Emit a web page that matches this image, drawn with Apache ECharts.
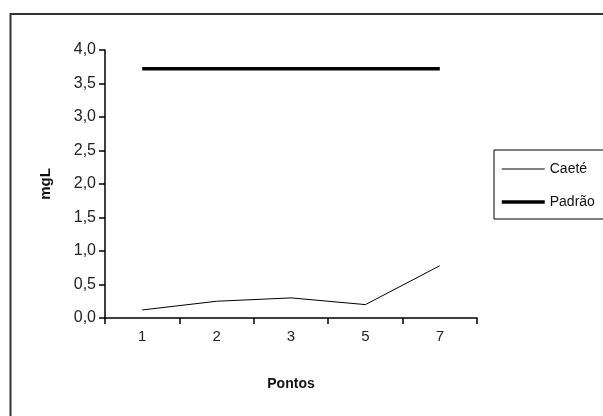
<!DOCTYPE html>
<html>
<head>
<meta charset="utf-8">
<script src="https://cdn.jsdelivr.net/npm/echarts@6/dist/echarts.min.js"></script>
<style>
html,body{margin:0;padding:0;background:#fff;}
#c{width:603px;height:416px;}
</style>
</head>
<body>
<div id="c"></div>
<script>
var categories = ['1', '2', '3', '5', '7'];
var caete = [0.12, 0.25, 0.30, 0.20, 0.78];
var padrao = [3.72, 3.72, 3.72, 3.72, 3.72];
var seriesNames = ['Caeté', 'Padrão'];
var yTicks = [0, 0.5, 1, 1.5, 2, 2.5, 3, 3.5, 4];

var FONT = "'Liberation Sans', Arial, sans-serif";
var chart = echarts.init(document.getElementById('c'), null, {renderer: 'canvas'});
chart.setOption({
  backgroundColor: '#ffffff',
  animation: false,
  textStyle: {fontFamily: FONT},
  graphic: [{
    type: 'rect',
    shape: {x: 10.5, y: 14, width: 700, height: 500},
    style: {fill: 'none', stroke: '#333', lineWidth: 2},
    silent: true
  }],
  grid: {left: 105, right: 126, top: 50, bottom: 98},
  legend: {
    orient: 'vertical',
    left: 494,
    top: 150,
    padding: [12, 70, 10, 6],
    itemWidth: 43,
    itemHeight: 14,
    itemGap: 19,
    borderColor: '#000',
    borderWidth: 1,
    data: [
      {name: seriesNames[0], lineStyle: {width: 1, color: '#000'}},
      {name: seriesNames[1], lineStyle: {width: 3.5, color: '#000'}}
    ],
    itemStyle: {color: 'rgba(0,0,0,0)', borderColor: 'rgba(0,0,0,0)', borderWidth: 0, opacity: 0},
    textStyle: {fontFamily: FONT, fontSize: 14, color: '#111'}
  },
  xAxis: {
    type: 'category',
    data: categories,
    boundaryGap: true,
    name: 'Pontos',
    nameLocation: 'middle',
    nameGap: 59,
    nameTextStyle: {fontFamily: FONT, fontSize: 14, fontWeight: 'bold', color: '#111'},
    axisLine: {lineStyle: {color: '#000', width: 1.5}},
    axisTick: {show: true, inside: false, length: 6, alignWithLabel: false, lineStyle: {color: '#000', width: 1.5}},
    axisLabel: {fontFamily: FONT, fontSize: 15, color: '#222', margin: 11},
    splitLine: {show: false}
  },
  yAxis: {
    type: 'value',
    min: 0,
    max: 4,
    interval: 0.5,
    name: 'mgL',
    nameLocation: 'middle',
    nameGap: 52,
    nameRotate: 90,
    nameTextStyle: {fontFamily: FONT, fontSize: 15, fontWeight: 'bold', color: '#111'},
    axisLine: {show: true, lineStyle: {color: '#000', width: 1.5}},
    axisTick: {show: true, inside: false, length: 6, lineStyle: {color: '#000', width: 1.5}},
    axisLabel: {
      fontFamily: FONT, fontSize: 16, color: '#222', margin: 9,
      formatter: function (v) { return v.toFixed(1).replace('.', ','); }
    },
    splitLine: {show: false}
  },
  series: [
    {
      name: seriesNames[0],
      type: 'line',
      data: caete,
      symbol: 'none',
      showSymbol: false,
      lineStyle: {color: '#000', width: 1},
      itemStyle: {color: '#000'}
    },
    {
      name: seriesNames[1],
      type: 'line',
      data: padrao,
      symbol: 'none',
      showSymbol: false,
      lineStyle: {color: '#000', width: 3.5},
      itemStyle: {color: '#000'}
    }
  ]
});
</script>
</body>
</html>
